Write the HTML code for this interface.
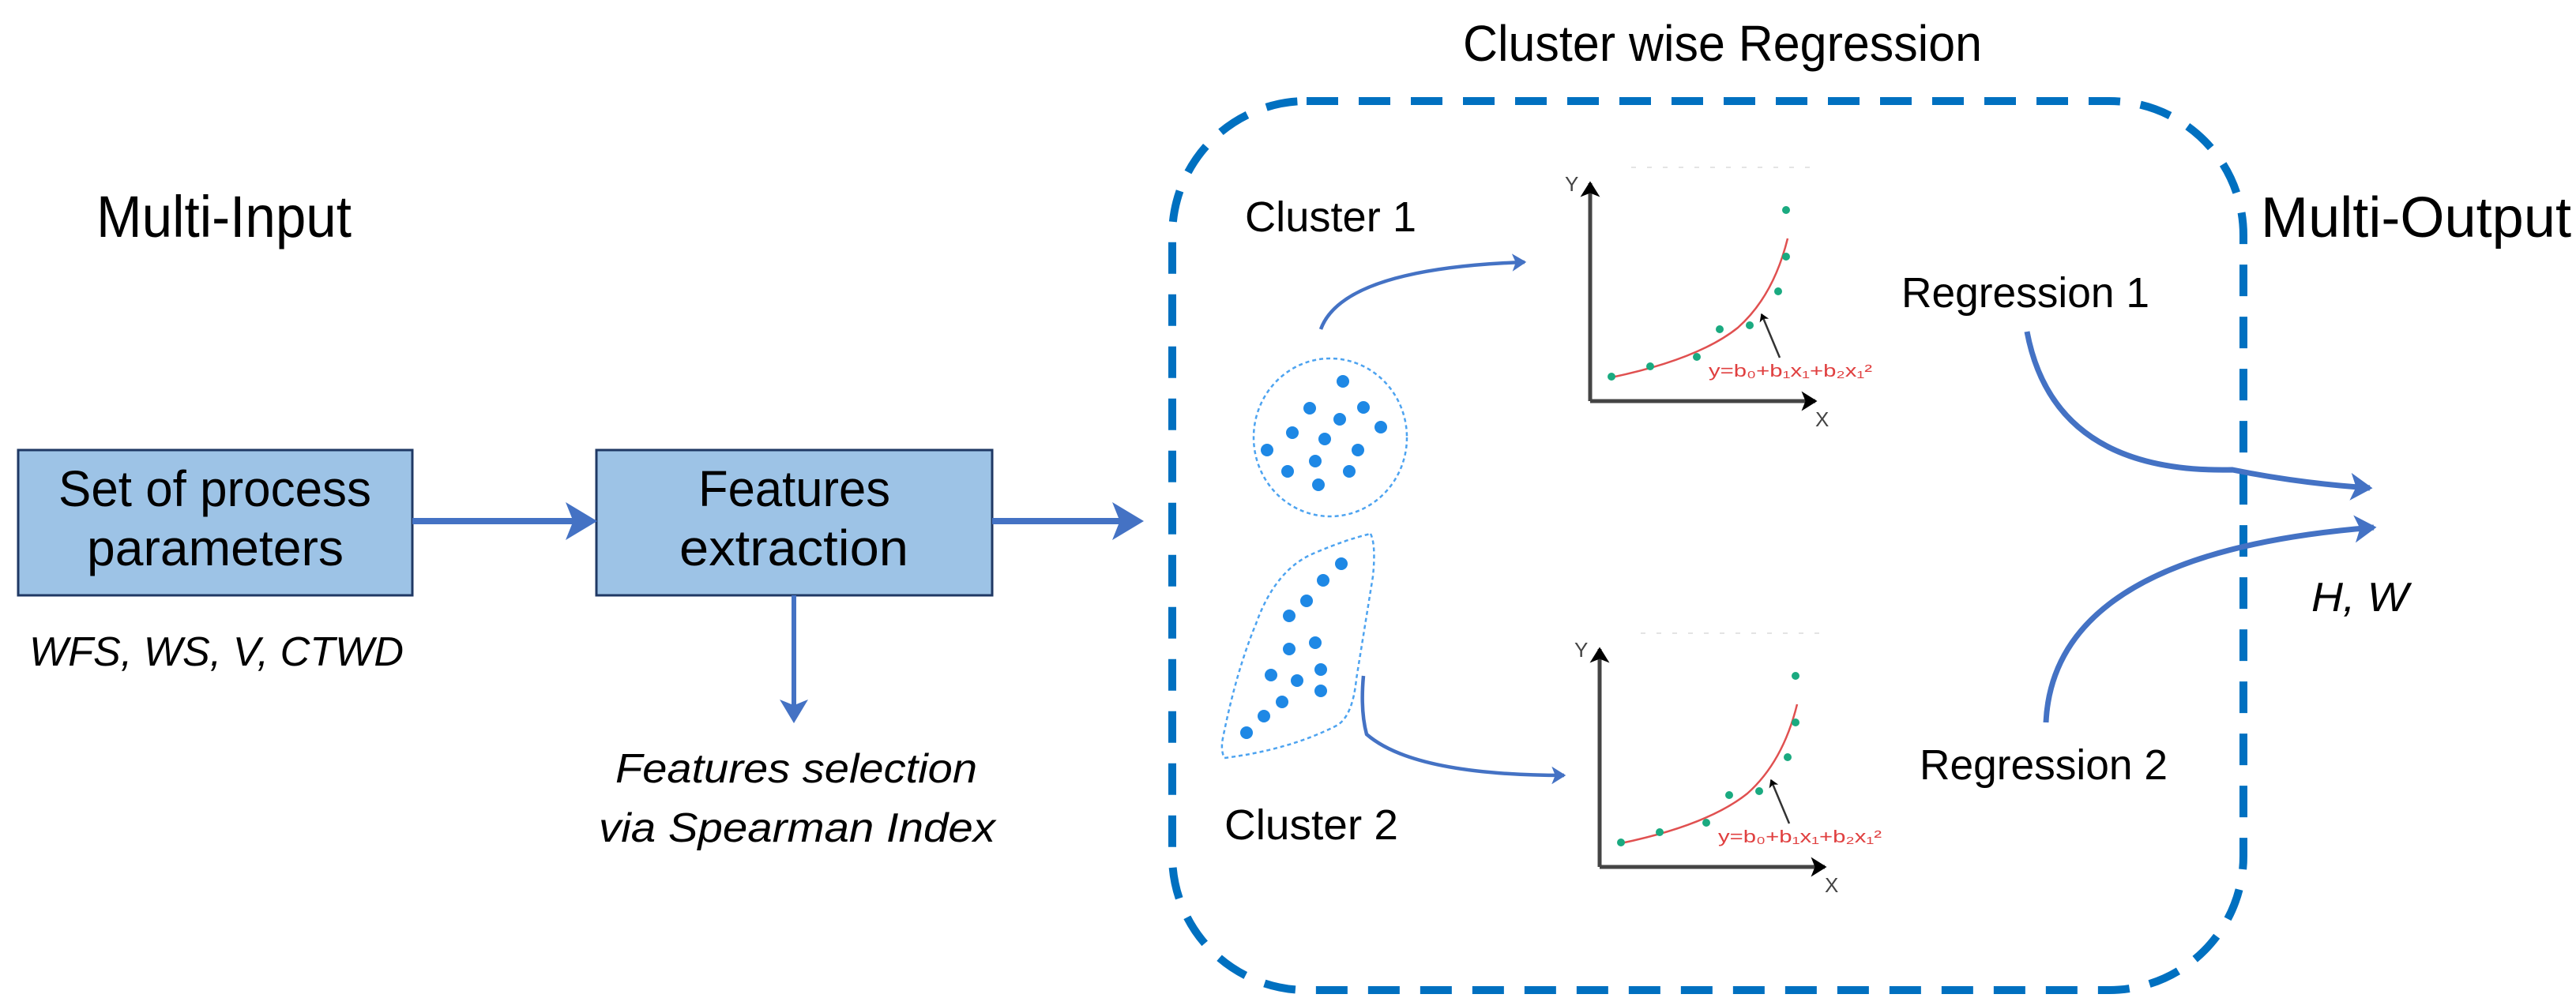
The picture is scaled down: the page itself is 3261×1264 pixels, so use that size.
<!DOCTYPE html>
<html><head><meta charset="utf-8"><style>html,body{margin:0;padding:0;background:#fff}svg{display:block}</style></head>
<body>
<svg width="3261" height="1264" viewBox="0 0 3261 1264" xmlns="http://www.w3.org/2000/svg" font-family="Liberation Sans, sans-serif">
<defs>
<marker id="ab" markerWidth="6" markerHeight="6" refX="4" refY="3" orient="auto" markerUnits="strokeWidth"><path d="M0,0 L5,3 L0,6 L1.2,3 z" fill="#4472C4"/></marker>
<marker id="ab2" markerWidth="5" markerHeight="5" refX="3.5" refY="2.5" orient="auto" markerUnits="strokeWidth"><path d="M0,0 L4,2.5 L0,5 L1,2.5 z" fill="#4472C4"/></marker>
<marker id="ak" markerWidth="5" markerHeight="5" refX="3.5" refY="2.5" orient="auto" markerUnits="strokeWidth"><path d="M0,0 L4,2.5 L0,5 L1,2.5 z" fill="#000"/></marker>
<g id="chart">
<line x1="2013" y1="508" x2="2013" y2="232" stroke="#444" stroke-width="5" marker-end="url(#ak)"/>
<line x1="2013" y1="508" x2="2298" y2="508" stroke="#444" stroke-width="5" marker-end="url(#ak)"/>
<text x="1981" y="242" font-size="26" fill="#444">Y</text>
<text x="2298" y="540" font-size="26" fill="#444">X</text>
<path d="M2040,478 Q2150,455 2200,415 Q2245,375 2263,302" fill="none" stroke="#e05050" stroke-width="2.5"/>
<g fill="#1aaa80"><circle cx="2040" cy="477" r="5"/><circle cx="2089" cy="464" r="5"/><circle cx="2148" cy="452" r="5"/><circle cx="2177" cy="417" r="5"/><circle cx="2215" cy="412" r="5"/><circle cx="2251" cy="369" r="5"/><circle cx="2261" cy="325" r="5"/><circle cx="2261" cy="266" r="5"/></g>
<line x1="2253" y1="453" x2="2230" y2="398" stroke="#333" stroke-width="2.5" marker-end="url(#ak)"/>
<text x="2163" y="477" font-size="22" fill="#e04040" textLength="207" lengthAdjust="spacingAndGlyphs">y=b₀+b₁x₁+b₂x₁²</text>
<line x1="2065" y1="212" x2="2300" y2="212" stroke="#e4e4e4" stroke-width="2" stroke-dasharray="6 14"/>
</g>
</defs>

<text x="122" y="300" font-size="74" textLength="323" lengthAdjust="spacingAndGlyphs">Multi-Input</text>
<text x="1852" y="77" font-size="64" textLength="657" lengthAdjust="spacingAndGlyphs">Cluster wise Regression</text>
<text x="2862" y="300" font-size="72" textLength="393" lengthAdjust="spacingAndGlyphs">Multi-Output</text>

<rect x="23" y="570" width="499" height="184" fill="#9DC3E6" stroke="#1F3864" stroke-width="3"/>
<text x="74" y="641" font-size="64" textLength="396" lengthAdjust="spacingAndGlyphs">Set of process</text>
<text x="110" y="716" font-size="64" textLength="325" lengthAdjust="spacingAndGlyphs">parameters</text>
<rect x="755" y="570" width="501" height="184" fill="#9DC3E6" stroke="#1F3864" stroke-width="3"/>
<text x="884" y="641" font-size="64" textLength="243" lengthAdjust="spacingAndGlyphs">Features</text>
<text x="860" y="716" font-size="64" textLength="290" lengthAdjust="spacingAndGlyphs">extraction</text>

<line x1="522" y1="660" x2="748" y2="660" stroke="#4472C4" stroke-width="8" marker-end="url(#ab)"/>
<line x1="1256" y1="660" x2="1440" y2="660" stroke="#4472C4" stroke-width="8" marker-end="url(#ab)"/>
<line x1="1005" y1="754" x2="1005" y2="910" stroke="#4472C4" stroke-width="6" marker-end="url(#ab)"/>

<text x="37" y="843" font-size="52" font-style="italic" textLength="474" lengthAdjust="spacingAndGlyphs">WFS, WS, V, CTWD</text>
<text x="779" y="991" font-size="52" font-style="italic" textLength="458" lengthAdjust="spacingAndGlyphs">Features selection</text>
<text x="758" y="1066" font-size="52" font-style="italic" textLength="502" lengthAdjust="spacingAndGlyphs">via Spearman Index</text>

<rect x="1484" y="128" width="1356" height="1126" rx="170" ry="170" fill="none" stroke="#0070C0" stroke-width="10" stroke-dasharray="40 26"/>

<text x="1576" y="293" font-size="54" textLength="217" lengthAdjust="spacingAndGlyphs">Cluster 1</text>
<text x="1550" y="1063" font-size="54" textLength="220" lengthAdjust="spacingAndGlyphs">Cluster 2</text>
<text x="2407" y="389" font-size="54" textLength="314" lengthAdjust="spacingAndGlyphs">Regression 1</text>
<text x="2430" y="987" font-size="54" textLength="314" lengthAdjust="spacingAndGlyphs">Regression 2</text>
<text x="2926" y="774" font-size="52" font-style="italic" textLength="123" lengthAdjust="spacingAndGlyphs">H, W</text>

<use href="#chart"/>
<use href="#chart" transform="translate(12,590)"/>

<ellipse cx="1684" cy="554" rx="97" ry="100" fill="none" stroke="#4DA3F0" stroke-width="2.5" stroke-dasharray="5 4"/>
<g fill="#1E88E5">
<circle cx="1700" cy="483" r="8"/><circle cx="1658" cy="517" r="8"/><circle cx="1726" cy="516" r="8"/><circle cx="1696" cy="531" r="8"/><circle cx="1748" cy="541" r="8"/><circle cx="1636" cy="548" r="8"/><circle cx="1677" cy="556" r="8"/><circle cx="1604" cy="570" r="8"/><circle cx="1719" cy="570" r="8"/><circle cx="1665" cy="584" r="8"/><circle cx="1630" cy="597" r="8"/><circle cx="1708" cy="597" r="8"/><circle cx="1669" cy="614" r="8"/>
</g>
<path d="M1735,676 Q1742,690 1738,730 L1717,860 Q1712,910 1690,920 Q1630,950 1550,960 Q1545,950 1548,935 Q1565,850 1590,790 Q1615,720 1665,700 Q1705,683 1735,676 z" fill="none" stroke="#4DA3F0" stroke-width="2.5" stroke-dasharray="5 4"/>
<g fill="#1E88E5">
<circle cx="1698" cy="714" r="8"/><circle cx="1675" cy="735" r="8"/><circle cx="1654" cy="761" r="8"/><circle cx="1632" cy="780" r="8"/><circle cx="1665" cy="814" r="8"/><circle cx="1632" cy="822" r="8"/><circle cx="1609" cy="855" r="8"/><circle cx="1642" cy="862" r="8"/><circle cx="1672" cy="848" r="8"/><circle cx="1672" cy="875" r="8"/><circle cx="1623" cy="889" r="8"/><circle cx="1600" cy="907" r="8"/><circle cx="1578" cy="928" r="8"/>
</g>

<path d="M1672,417 Q1700,340 1930,332" fill="none" stroke="#4472C4" stroke-width="4.5" marker-end="url(#ab2)"/>
<path d="M1726,856 Q1722,900 1730,930 Q1790,982 1980,982" fill="none" stroke="#4472C4" stroke-width="4.5" marker-end="url(#ab2)"/>
<path d="M2566,420 Q2600,600 2826,595 Q2910,612 3000,618" fill="none" stroke="#4472C4" stroke-width="7" marker-end="url(#ab2)"/>
<path d="M2590,915 Q2600,700 3005,668" fill="none" stroke="#4472C4" stroke-width="7" marker-end="url(#ab2)"/>
</svg>
</body></html>
